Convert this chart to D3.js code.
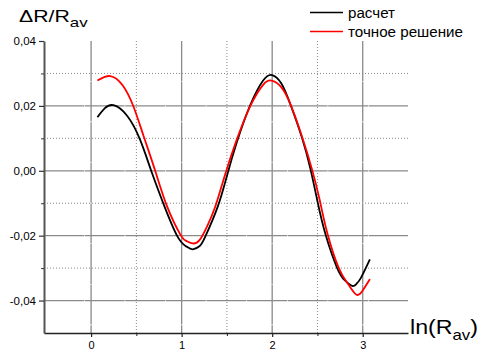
<!DOCTYPE html>
<html><head><meta charset="utf-8">
<script src="https://cdn.jsdelivr.net/npm/d3@7"></script>
<style>html,body{margin:0;padding:0;background:#fff;} svg{display:block;font-family:Arial,"Liberation Sans",sans-serif;}</style>
</head><body>
<svg id="c" width="480" height="358"></svg>
<script>
const seriesNames = ["расчет", "точное решение"];
const seriesColors = ["#000000", "#ff0000"];
const blackX = [0.07,0.15,0.247,0.4,0.542,0.664,0.808,0.955,1.05,1.123,1.2,1.261,1.397,1.501,1.612,1.759,1.9,1.999,2.1,2.201,2.331,2.423,2.497,2.588,2.718,2.8,2.884,2.93,2.98,3.079];
const blackY = [0.0165,0.0192,0.0202,0.0169,0.0095,0,-0.0108,-0.0203,-0.0233,-0.0242,-0.0232,-0.0203,-0.0112,-0.0015,0.0090,0.0203,0.0278,0.0295,0.0270,0.0205,0.0100,0.0005,-0.0090,-0.0195,-0.0300,-0.0337,-0.0355,-0.0349,-0.0330,-0.0273];
const redX = [0.07,0.21,0.35,0.468,0.579,0.708,0.837,0.985,1.05,1.123,1.2,1.28,1.372,1.482,1.604,1.759,1.9,1.991,2.1,2.209,2.338,2.442,2.525,2.607,2.736,2.84,2.931,3.0,3.079];
const redY = [0.0278,0.0292,0.0263,0.0198,0.0108,0,-0.0108,-0.0196,-0.0216,-0.0224,-0.0213,-0.0172,-0.0110,-0.0010,0.0092,0.0200,0.0265,0.0278,0.0258,0.0200,0.0098,0.0002,-0.0090,-0.0190,-0.0300,-0.0350,-0.0382,-0.0369,-0.0334];
const xMajor = [0,1,2,3];
const xMinor = [0.5,1.5,2.5];
const yMajor = [-0.04,-0.02,0.00,0.02,0.04];
const yGrid = [-0.04,-0.02,0.00,0.02];
const yMinor = [-0.03,-0.01,0.01,0.03];
const xLabels = ["0","1","2","3"];
const yLabels = ["-0,04","-0,02","0,00","0,02","0,04"];

const svg = d3.select("#c");
const x = d3.scaleLinear().domain([-0.52,3.5]).range([44,408]);
const y = d3.scaleLinear().domain([-0.05,0.04]).range([333,41]);
const x0 = x(-0.52), x1 = x(3.5), yTop = y(0.04), yBot = y(-0.05);

// grid
const gridG = svg.append("g");
xMinor.forEach(d => {
  gridG.append("line").attr("x1", x(d)).attr("x2", x(d)).attr("y1", yTop).attr("y2", yBot)
    .attr("stroke", "#888").attr("stroke-width", 1).attr("stroke-dasharray", "1,2");
});
yMinor.forEach(d => {
  gridG.append("line").attr("x1", x0).attr("x2", x1).attr("y1", y(d)).attr("y2", y(d))
    .attr("stroke", "#888").attr("stroke-width", 1).attr("stroke-dasharray", "1,2");
});
xMajor.forEach(d => {
  gridG.append("line").attr("x1", x(d)).attr("x2", x(d)).attr("y1", yTop).attr("y2", yBot)
    .attr("stroke", "#8a8a8a").attr("stroke-width", 1.3).attr("stroke-dasharray", "40,0.6");
});
yGrid.forEach(d => {
  gridG.append("line").attr("x1", x0).attr("x2", x1).attr("y1", y(d)).attr("y2", y(d))
    .attr("stroke", "#8a8a8a").attr("stroke-width", 1.3).attr("stroke-dasharray", "40,0.6");
});

// axes
const xAxis = d3.axisBottom(x).tickValues(xMajor).tickFormat((d,i)=>xLabels[i]).tickSize(4).tickSizeOuter(0);
const xa = svg.append("g").attr("transform",`translate(0,${yBot})`).call(xAxis);
xa.select(".domain").attr("stroke","#222").attr("stroke-width",1.6);
xa.selectAll(".tick line").attr("stroke","#222").attr("stroke-width",1.2);
xa.selectAll(".tick text").attr("font-size",11).attr("font-family","Arial,'Liberation Sans',sans-serif").attr("fill","#000").attr("dy","0.95em").attr("y",6);
const xaMin = d3.axisBottom(x).tickValues(xMinor).tickFormat("").tickSize(3).tickSizeOuter(0);
const xm = svg.append("g").attr("transform",`translate(0,${yBot})`).call(xaMin);
xm.select(".domain").remove();
xm.selectAll(".tick line").attr("stroke","#222");

const yAxis = d3.axisLeft(y).tickValues(yMajor).tickFormat((d,i)=>yLabels[i]).tickSize(5).tickSizeOuter(0);
const ya = svg.append("g").attr("transform",`translate(${x0},0)`).call(yAxis);
ya.select(".domain").attr("stroke","#555").attr("stroke-width",2);
ya.selectAll(".tick line").attr("stroke","#333").attr("stroke-width",1.2);
ya.selectAll(".tick text").attr("font-size",11.5).attr("font-family","Arial,'Liberation Sans',sans-serif").attr("fill","#000").attr("x",-8);
const yaMin = d3.axisLeft(y).tickValues(yMinor).tickFormat("").tickSize(3).tickSizeOuter(0);
const ym = svg.append("g").attr("transform",`translate(${x0},0)`).call(yaMin);
ym.select(".domain").remove();
ym.selectAll(".tick line").attr("stroke","#333");

// curves
const line = d3.line().x(d=>x(d[0])).y(d=>y(d[1])).curve(d3.curveNatural);
const series = [d3.zip(blackX,blackY), d3.zip(redX,redY)];
series.forEach((s,i)=>{
  svg.append("path").attr("d",line(s)).attr("fill","none")
    .attr("stroke",seriesColors[i]).attr("stroke-width",1.8);
});

// title: ΔR/R_av
const t = svg.append("text").attr("transform","translate(19,22) scale(1.25,1)").attr("font-size",17);
t.append("tspan").text("ΔR/R");
t.append("tspan").attr("font-size",13.5).attr("dy",5).text("av");
// x label: ln(R_av)
const xl = svg.append("text").attr("transform","translate(410,334) scale(1.16,1)").attr("font-size",20);
xl.append("tspan").text("ln(R");
xl.append("tspan").attr("font-size",14.5).attr("dy",6).text("av");
xl.append("tspan").attr("dy",-6).text(")");

// legend
const legY = [12.5, 31.5];
const legW = [47, 115];
seriesNames.forEach((n,i)=>{
  svg.append("line").attr("x1",310).attr("x2",343).attr("y1",legY[i]).attr("y2",legY[i])
    .attr("stroke",seriesColors[i]).attr("stroke-width",1.6);
  svg.append("text").attr("x",348).attr("y",legY[i]+5).attr("font-size",14)
    .attr("textLength",legW[i]).attr("lengthAdjust","spacingAndGlyphs").text(n);
});
</script>
</body></html>
